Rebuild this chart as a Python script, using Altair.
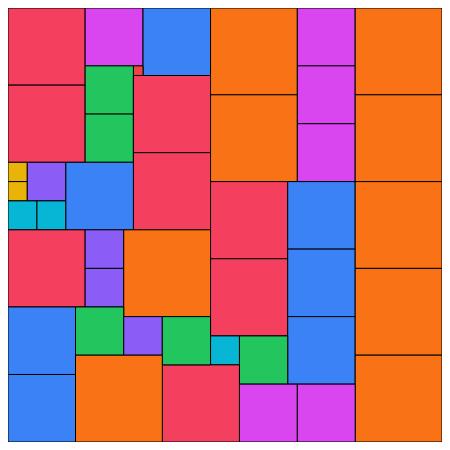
import altair as alt
import pandas as pd

groups = ["rose", "rose", "fuchsia", "blue", "red", "green", "green", "rose", "rose",
          "yellow", "yellow", "violet", "cyan", "cyan", "blue",
          "orange", "orange", "rose", "rose", "fuchsia", "fuchsia", "fuchsia",
          "orange", "orange", "blue", "blue", "blue", "orange", "orange", "orange",
          "cyan", "green", "fuchsia", "fuchsia", "rose",
          "rose", "violet", "violet", "orange", "blue", "blue", "green", "violet",
          "green", "orange"]
xs = [0, 0, 80, 140, 130, 80, 80, 130, 130,
      0, 0, 20, 0, 30, 60,
      210, 210, 210, 210, 300, 300, 300,
      360, 360, 290, 290, 290, 360, 360, 360,
      210, 240, 240, 300, 160,
      0, 80, 80, 120, 0, 0, 70, 120,
      160, 70]
ys = [0, 80, 0, 0, 60, 60, 110, 70, 150,
      160, 180, 160, 200, 200, 160,
      0, 90, 180, 260, 0, 60, 120,
      0, 90, 180, 250, 320, 180, 270, 360,
      340, 340, 390, 390, 370,
      230, 230, 270, 230, 310, 380, 310, 320,
      320, 360]
sides = [80, 80, 60, 70, 10, 50, 50, 80, 80,
         20, 20, 40, 30, 30, 70,
         90, 90, 80, 80, 60, 60, 60,
         90, 90, 70, 70, 70, 90, 90, 90,
         30, 50, 60, 60, 80,
         80, 40, 40, 90, 70, 70, 50, 40,
         50, 90]

palette_names = ["rose", "fuchsia", "blue", "red", "green", "yellow", "violet", "cyan", "orange"]
palette_colors = ["#F43F5E", "#D946EF", "#3B82F6", "#EF4444", "#22C55E", "#EAB308", "#8B5CF6", "#06B6D4", "#F97316"]

df = pd.DataFrame({"group": groups, "x": xs, "y": ys, "side": sides})

chart = alt.Chart(df).transform_calculate(
    x2="datum.x + datum.side", y2="datum.y + datum.side"
).mark_rect(stroke="black", strokeWidth=1).encode(
    x=alt.X("x:Q", scale=alt.Scale(domain=[0, 450], nice=False, zero=False), axis=None),
    x2="x2:Q",
    y=alt.Y("y:Q", scale=alt.Scale(domain=[0, 450], range=[0, 434], nice=False, zero=False), axis=None),
    y2="y2:Q",
    color=alt.Color("group:N", scale=alt.Scale(domain=palette_names, range=palette_colors), legend=None),
).properties(
    width=434, height=434,
    padding=0,
    autosize=alt.AutoSizeParams(type="none"),
).configure_view(stroke=None)

chart.save("out.html", embed_options={"renderer": "svg", "actions": False})
